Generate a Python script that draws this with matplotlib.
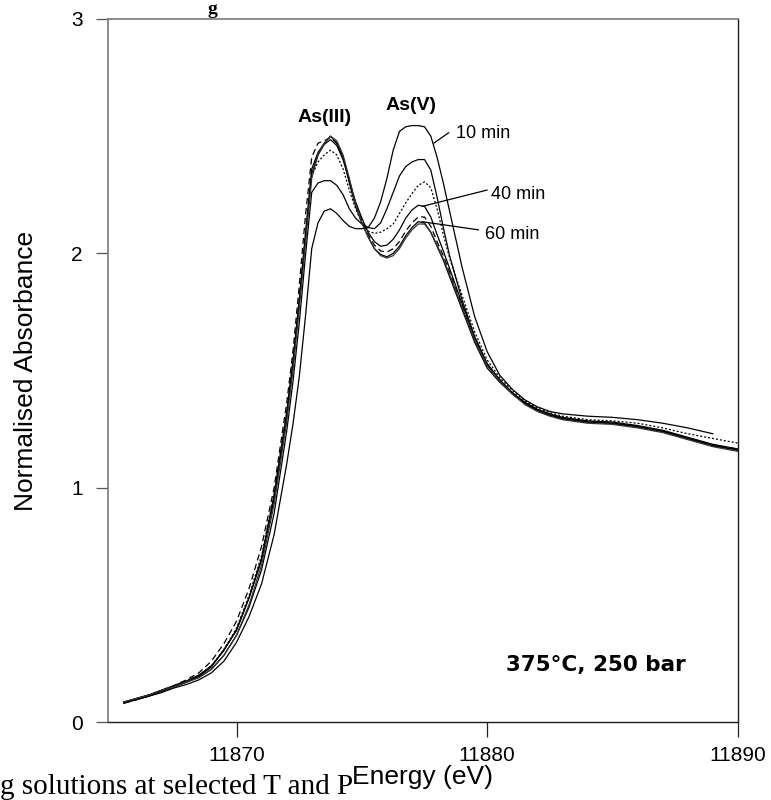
import numpy as np
import matplotlib
matplotlib.use("Agg")
import matplotlib.pyplot as plt

plt.rcParams['font.family'] = ['Liberation Sans', 'DejaVu Sans']

energy = [11865.5, 11866, 11866.5, 11867, 11867.5, 11868, 11868.5, 11869, 11869.5, 11870,
          11870.5, 11871, 11871.5, 11872, 11872.25, 11872.5, 11872.75, 11873, 11873.25, 11873.5,
          11873.75, 11874, 11874.25, 11874.5, 11874.75, 11875, 11875.25, 11875.5, 11875.75, 11876,
          11876.25, 11876.5, 11876.75, 11877, 11877.25, 11877.5, 11877.75, 11878, 11878.25, 11878.5,
          11879, 11879.5, 11880, 11880.5, 11881, 11881.5, 11882, 11882.5, 11883, 11884,
          11885, 11886, 11887, 11888, 11889, 11890]

abs_10min = [0.085, 0.095, 0.11, 0.125, 0.145, 0.16, 0.18, 0.21, 0.26, 0.34,
             0.45, 0.59, 0.80, 1.10, 1.27, 1.47, 1.73, 2.02, 2.13, 2.18,
             2.19, 2.17, 2.14, 2.115, 2.105, 2.105, 2.11, 2.15, 2.22, 2.32,
             2.44, 2.52, 2.54, 2.545, 2.545, 2.54, 2.50, 2.41, 2.30, 2.18,
             1.94, 1.73, 1.58, 1.48, 1.42, 1.375, 1.345, 1.325, 1.315, 1.305,
             1.30, 1.29, 1.275, 1.255, 1.23, np.nan]

abs_20min = [0.085, 0.10, 0.115, 0.13, 0.15, 0.17, 0.19, 0.225, 0.285, 0.37,
             0.49, 0.65, 0.89, 1.24, 1.45, 1.70, 1.99, 2.26, 2.30, 2.31,
             2.31, 2.29, 2.25, 2.19, 2.15, 2.125, 2.11, 2.105, 2.13, 2.19,
             2.26, 2.33, 2.37, 2.39, 2.40, 2.40, 2.355, 2.24, 2.11, 1.99,
             1.80, 1.645, 1.53, 1.46, 1.405, 1.365, 1.335, 1.315, 1.30, 1.285,
             1.28, 1.265, 1.245, 1.215, 1.185, 1.165]

abs_30min = [0.085, 0.10, 0.115, 0.135, 0.155, 0.175, 0.20, 0.24, 0.31, 0.40,
             0.54, 0.71, 0.97, 1.32, 1.54, 1.80, 2.08, 2.33, 2.39, 2.42,
             2.44, 2.42, 2.36, 2.27, 2.19, 2.13, 2.095, 2.085, 2.09, 2.105,
             2.125, 2.17, 2.215, 2.255, 2.29, 2.305, 2.28, 2.19, 2.08, 1.98,
             1.82, 1.665, 1.545, 1.47, 1.415, 1.37, 1.34, 1.32, 1.305, 1.29,
             1.285, 1.275, 1.255, 1.23, 1.21, 1.19]

abs_40min = [0.085, 0.10, 0.115, 0.135, 0.155, 0.175, 0.20, 0.24, 0.305, 0.395,
             0.53, 0.69, 0.95, 1.30, 1.52, 1.79, 2.07, 2.34, 2.42, 2.465,
             2.485, 2.46, 2.40, 2.31, 2.22, 2.15, 2.09, 2.05, 2.03, 2.035,
             2.06, 2.10, 2.15, 2.185, 2.205, 2.20, 2.155, 2.08, 2.01, 1.935,
             1.785, 1.64, 1.525, 1.46, 1.405, 1.36, 1.33, 1.31, 1.295, 1.28,
             1.275, 1.26, 1.24, 1.21, 1.18, 1.16]

abs_50min = [0.08, 0.095, 0.115, 0.135, 0.155, 0.18, 0.21, 0.26, 0.335, 0.43,
             0.57, 0.75, 1.00, 1.36, 1.58, 1.86, 2.16, 2.41, 2.47, 2.48,
             2.495, 2.47, 2.41, 2.31, 2.21, 2.14, 2.08, 2.035, 2.01, 2.005,
             2.02, 2.05, 2.095, 2.13, 2.155, 2.155, 2.115, 2.05, 1.99, 1.92,
             1.775, 1.635, 1.52, 1.46, 1.405, 1.36, 1.33, 1.31, 1.295, 1.28,
             1.275, 1.26, 1.24, 1.21, 1.18, 1.165]

abs_60min = [0.08, 0.095, 0.11, 0.135, 0.15, 0.17, 0.195, 0.235, 0.31, 0.39,
             0.53, 0.70, 0.97, 1.32, 1.54, 1.80, 2.08, 2.36, 2.43, 2.47,
             2.50, 2.47, 2.41, 2.30, 2.20, 2.13, 2.07, 2.02, 1.995, 1.985,
             2.00, 2.03, 2.075, 2.11, 2.135, 2.13, 2.09, 2.03, 1.97, 1.90,
             1.76, 1.62, 1.51, 1.45, 1.40, 1.36, 1.33, 1.31, 1.295, 1.28,
             1.275, 1.26, 1.24, 1.21, 1.18, 1.16]

abs_70min = [0.085, 0.10, 0.115, 0.135, 0.15, 0.17, 0.19, 0.225, 0.285, 0.37,
             0.50, 0.67, 0.93, 1.28, 1.50, 1.76, 2.04, 2.32, 2.42, 2.47,
             2.50, 2.48, 2.42, 2.32, 2.21, 2.13, 2.07, 2.02, 1.99, 1.98,
             1.99, 2.02, 2.065, 2.10, 2.125, 2.125, 2.09, 2.035, 1.975, 1.91,
             1.77, 1.63, 1.52, 1.455, 1.40, 1.355, 1.325, 1.305, 1.29, 1.275,
             1.27, 1.255, 1.235, 1.205, 1.175, 1.155]

x_ticks = [11870, 11880, 11890]
y_ticks = [0, 1, 2, 3]

fig = plt.figure(figsize=(7.71, 8.0), dpi=100)
ax = fig.add_axes([0.140, 0.0975, 0.817, 0.8788])

lw = 0.9
ax.plot(energy, abs_10min, color='black', lw=lw)
ax.plot(energy, abs_20min, color='black', lw=lw)
ax.plot(energy, abs_30min, color='black', lw=lw, ls=(0, (1.6, 1.6)))
ax.plot(energy, abs_40min, color='black', lw=lw)
ax.plot(energy, abs_50min, color='black', lw=lw, ls=(0, (5, 3)))
ax.plot(energy, abs_60min, color='black', lw=lw)
ax.plot(energy, abs_70min, color='#333333', lw=lw)

ax.set_xlim(11864.87, 11890)
ax.set_ylim(0, 3)
ax.set_xticks(x_ticks)
ax.set_yticks(y_ticks)
ax.tick_params(axis='x', direction='out', length=11, width=0.9, pad=6, labelsize=15, color='#222222')
ax.tick_params(axis='y', direction='out', length=9, width=0.9, pad=9, labelsize=15, color='#555555')

for side in ['left', 'top']:
    ax.spines[side].set_color('#7a7a7a')
    ax.spines[side].set_linewidth(1.2)
for side in ['right', 'bottom']:
    ax.spines[side].set_color('#1a1a1a')
    ax.spines[side].set_linewidth(1.0)

ax.set_xlabel('Energy (eV)', fontsize=19, labelpad=0)
ax.set_ylabel('Normalised Absorbance', fontsize=19, labelpad=24)

ax.text(11873.5, 2.58, 'As(III)', fontsize=14, fontweight='bold', ha='center', va='center')
ax.text(11876.96, 2.63, 'As(V)', fontsize=14, fontweight='bold', ha='center', va='center')

line_kw = dict(arrowstyle='-', color='black', lw=0.9, shrinkA=0, shrinkB=0)
ax.annotate('', xy=(11877.87, 2.47), xytext=(11878.47, 2.515), arrowprops=line_kw)
ax.annotate('', xy=(11877.4, 2.20), xytext=(11880.0, 2.27), arrowprops=line_kw)
ax.annotate('', xy=(11877.4, 2.135), xytext=(11879.66, 2.10), arrowprops=line_kw)
ax.text(11878.75, 2.51, '10 min', fontsize=13, ha='left', va='center')
ax.text(11880.14, 2.25, '40 min', fontsize=13, ha='left', va='center')
ax.text(11879.93, 2.08, '60 min', fontsize=13, ha='left', va='center')

ax.text(11884.35, 0.245, '375°C, 250 bar', fontsize=15.5, fontweight='bold',
        family='DejaVu Sans', ha='center', va='center')

fig.text(0.0, 0.0, 'g solutions at selected T and P', family='Liberation Serif',
         fontsize=21, ha='left', va='bottom')
fig.text(0.276, 0.999, 'g', family='Liberation Serif', fontweight='bold',
         fontsize=14, ha='center', va='top')

fig.savefig('out.png', dpi=100)
